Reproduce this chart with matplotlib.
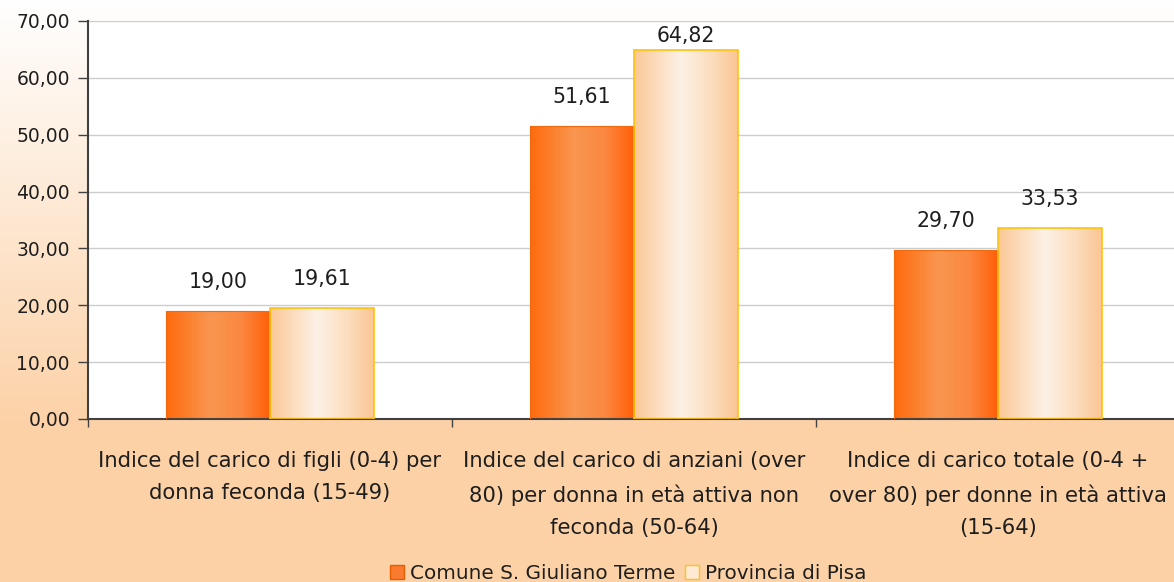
import matplotlib
matplotlib.use('Agg')
import matplotlib.pyplot as plt
import matplotlib.patches as mpatches
from matplotlib.colors import to_rgb, LinearSegmentedColormap
import numpy as np

# ── data ──
categories = [
    "Indice del carico di figli (0-4) per\ndonna feconda (15-49)",
    "Indice del carico di anziani (over\n80) per donna in età attiva non\nfeconda (50-64)",
    "Indice di carico totale (0-4 +\nover 80) per donne in età attiva\n(15-64)",
]
series_names = ["Comune S. Giuliano Terme", "Provincia di Pisa"]
comune = [19.00, 51.61, 29.70]
provincia = [19.61, 64.82, 33.53]
y_ticks = [0, 10, 20, 30, 40, 50, 60, 70]

# ── colours ──
TXT = '#1E1E1E'
PEACH_BG = '#FCD1A6'
ORANGE_STOPS = [(0.0, '#FF6A0C'), (0.42, '#F99650'), (0.72, '#FB8840'), (1.0, '#FF5F08')]
PEACH_STOPS = [(0.0, '#FBC896'), (0.45, '#FDF1E6'), (0.75, '#FCDDBE'), (1.0, '#FBC593')]

plt.rcParams['font.family'] = ['DejaVu Sans']
FS_TICK = 13.5
FS_CAT = 15.2
FS_VAL = 14.8
FS_LEG = 14.4

fig = plt.figure(figsize=(11.74, 5.82), dpi=100)

# background gradient for the whole figure
bg = fig.add_axes([0, 0, 1, 1], zorder=-10)
bg.axis('off')
h = 582
ys = np.linspace(0, 1, h)
t = np.clip(ys / (430 / 582), 0, 1)
top = np.array(to_rgb('#FFFFFF'))
bot = np.array(to_rgb(PEACH_BG))
grad = top[None, :] * (1 - t[:, None]) + bot[None, :] * t[:, None]
bg.imshow(grad[:, None, :].repeat(4, axis=1), aspect='auto', extent=[0, 1, 0, 1], origin='upper')
bg.set_xlim(0, 1)
bg.set_ylim(0, 1)

ax = fig.add_axes([88 / 1174, 163 / 582, 1092 / 1174, 398 / 582])
ax.set_facecolor('white')

x = np.arange(len(categories))
w = 0.2857
cmap_o = LinearSegmentedColormap.from_list('o', ORANGE_STOPS)
cmap_p = LinearSegmentedColormap.from_list('p', PEACH_STOPS)

b1 = ax.bar(x - w / 2, comune, w, facecolor='none', edgecolor='#F26A10', linewidth=0.8, zorder=3)
b2 = ax.bar(x + w / 2, provincia, w, facecolor='none', edgecolor='#FFC20E', linewidth=1.2, zorder=3)

gx = np.linspace(0, 1, 256)[None, :]
for bars, cm in [(b1, cmap_o), (b2, cmap_p)]:
    for r in bars:
        im = ax.imshow(gx, cmap=cm, aspect='auto', zorder=2,
                       extent=[r.get_x(), r.get_x() + r.get_width(), 0, r.get_height()])
        im.set_clip_path(r)

ymax = 70
px_per_unit = 398 / ymax
for bars, vals in [(b1, comune), (b2, provincia)]:
    for r, v in zip(bars, vals):
        # labels near the top get pushed down to stay inside the plot area
        space_px = (ymax - v) * px_per_unit
        off_px = min(19, space_px - 25)
        ax.annotate(f'{v:.2f}'.replace('.', ','), (r.get_x() + r.get_width() / 2, r.get_height()),
                    xytext=(0, off_px * 0.72), textcoords='offset points', ha='center', va='bottom',
                    fontsize=FS_VAL, color=TXT)

ax.set_xlim(-0.5, 2.5)
ax.set_ylim(0, ymax)
ax.set_yticks(y_ticks)
ax.set_yticklabels([f'{v:.2f}'.replace('.', ',') for v in y_ticks], fontsize=FS_TICK, color=TXT)
ax.set_xticks(x)
ax.set_xticklabels(categories, fontsize=FS_CAT, color=TXT, linespacing=1.75)
ax.set_xticks([-0.5, 0.5, 1.5, 2.5], minor=True)
ax.tick_params(axis='x', which='major', length=0, pad=23)
ax.tick_params(axis='x', which='minor', length=6, width=1, color='#404040', direction='out')
ax.tick_params(axis='y', length=7, width=1, color='#404040', direction='out', pad=6)

ax.yaxis.grid(True, color='#CDCDCD', linewidth=1.0, zorder=0)
ax.set_axisbelow(True)
for s in ['top', 'right']:
    ax.spines[s].set_visible(False)
for s in ['left', 'bottom']:
    ax.spines[s].set_color('#404040')
    ax.spines[s].set_linewidth(1.5)

handles = [
    mpatches.Patch(facecolor='#F97B30', edgecolor='#E65C00', label=series_names[0]),
    mpatches.Patch(facecolor='#FDE9D4', edgecolor='#FFC20E', label=series_names[1]),
]
fig.legend(handles=handles, loc='lower center', bbox_to_anchor=(0.535, -0.033), ncol=2,
           frameon=False, fontsize=FS_LEG, handlelength=0.7, handleheight=0.7,
           handletextpad=0.3, columnspacing=0.5, labelcolor=TXT)

fig.savefig('out.png', dpi=100)
